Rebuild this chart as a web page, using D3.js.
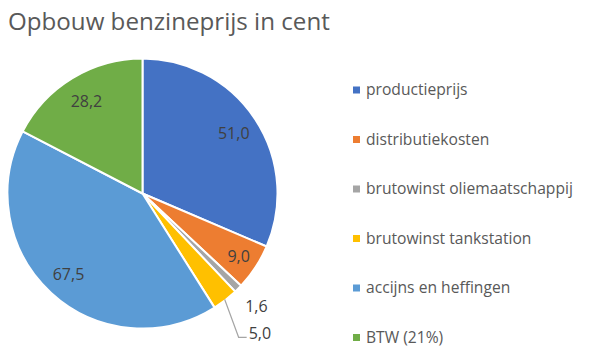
<!DOCTYPE html>
<html><head><meta charset="utf-8">
<script src="https://cdn.jsdelivr.net/npm/d3@7"></script>
<style>body{margin:0;background:#fff;} svg{display:block;}</style>
</head><body>
<svg id="c" width="591" height="361"></svg>
<script>
const title = "Opbouw benzineprijs in cent";
const categories = ["productieprijs","distributiekosten","brutowinst oliemaatschappij","brutowinst tankstation","accijns en heffingen","BTW (21%)"];
const values = [51.0, 9.0, 1.6, 5.0, 67.5, 28.2];
const colors = ["#4472C4","#ED7D31","#A5A5A5","#FFC000","#5B9BD5","#70AD47"];

const svg = d3.select("#c");
const cx = 142.5, cy = 193.5, R = 135;
const font = "'Open Sans', 'Segoe UI', sans-serif";
const txtCol = "#404040";

// title
const t = svg.append("text").attr("x", 8).attr("y", 30)
  .attr("font-family", font).attr("font-size", 25).attr("fill", "#595959").text(title);
const tw = t.node().getComputedTextLength();
t.attr("font-size", 25 * 322 / tw);

const data = categories.map((c, i) => ({cat: c, value: values[i], color: colors[i]}));
const pie = d3.pie().value(d => d.value).sort(null);
const arcs = pie(data);
const arc = d3.arc().innerRadius(0).outerRadius(R);
const g = svg.append("g").attr("transform", `translate(${cx},${cy})`);
g.selectAll("path.slice").data(arcs).join("path")
  .attr("class", "slice")
  .attr("d", arc).attr("fill", d => d.data.color)
  .attr("stroke", "#fff").attr("stroke-width", 2).attr("stroke-linejoin", "round");

const fmt = v => d3.format(".1f")(v).replace(".", ",");
const mid = d => (d.startAngle + d.endAngle) / 2;
const pol = (a, r) => [r * Math.sin(a), -r * Math.cos(a)];
const labelR = [0.81, 0.85, 1.19, null, 0.81, 0.80];
const lfs = 16;
arcs.forEach((d, i) => {
  if (labelR[i] !== null) {
    const [x, y] = pol(mid(d), R * labelR[i]);
    g.append("text").attr("x", x).attr("y", y).attr("dy", "0.35em")
      .attr("text-anchor", "middle").attr("font-family", font).attr("font-size", lfs)
      .attr("fill", txtCol).text(fmt(d.data.value));
  } else {
    const [x0, y0] = pol(mid(d), R - 1);
    const x1 = x0 + 14, y1 = y0 + 38, x2 = x1 + 8;
    g.append("polyline").attr("points", `${x0},${y0} ${x1},${y1} ${x2},${y1}`)
      .attr("fill", "none").attr("stroke", "#A5A5A5").attr("stroke-width", 1.3);
    g.append("text").attr("x", x2 + 2).attr("y", y1 - 4).attr("dy", "0.35em")
      .attr("text-anchor", "start").attr("font-family", font).attr("font-size", lfs)
      .attr("fill", txtCol).text(fmt(d.data.value));
  }
});

// legend
const lg = svg.append("g");
const ly0 = 90, lstep = 49.5;
const items = lg.selectAll("g").data(data).join("g")
  .attr("transform", (d, i) => `translate(353,${ly0 + i * lstep})`);
items.append("rect").attr("x", 0).attr("y", -3.5).attr("width", 7).attr("height", 7).attr("fill", d => d.color);
const lt = items.append("text").attr("x", 13).attr("y", 0).attr("dy", "0.35em")
  .attr("font-family", font).attr("font-size", 14).attr("fill", "#595959").text(d => d.cat);
const w3 = lt.nodes()[2].getComputedTextLength();
lt.attr("font-size", 14 * 207 / w3);
</script>
</body></html>
